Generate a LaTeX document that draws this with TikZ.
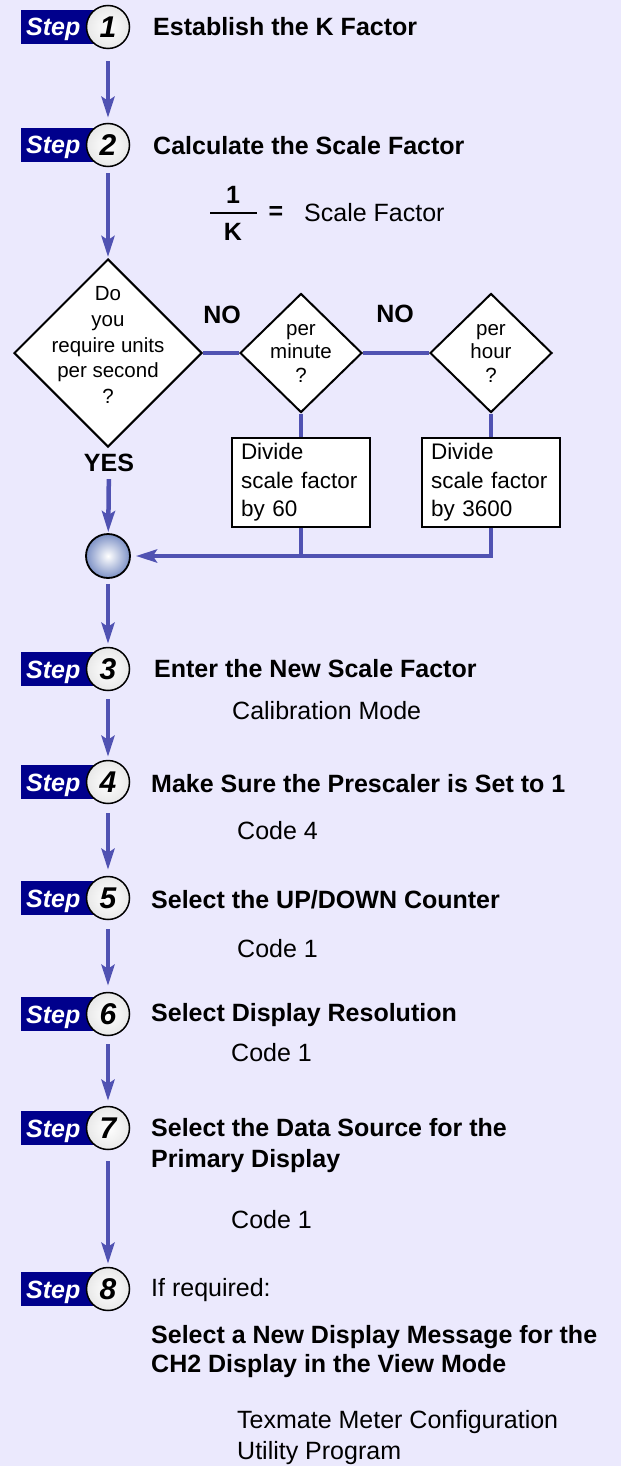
\documentclass[tikz,border=0pt]{standalone}
\usepackage{fontspec}
\setmainfont{Liberation Sans}
\usetikzlibrary{shapes.geometric,arrows.meta}
\definecolor{bgc}{RGB}{235,233,253}
\definecolor{flow}{RGB}{80,82,178}
\definecolor{navyc}{RGB}{0,0,140}
\definecolor{ballc}{RGB}{125,145,198}
\newcommand\tbold{\fontsize{25}{30}\selectfont\bfseries}
\newcommand\treg{\fontsize{25}{30}\selectfont}
\newcommand\stepbadge[3]{%
  \node[stepbox] (#1b) at (21,#2) {Step};
  \node[stepcirc] (#1) at (108,#2) {#3};
}
\begin{document}
\begin{tikzpicture}[x=1pt,y=-1pt,
  flowline/.style={draw=flow,line width=4.5pt},
  flowarrow/.style={flowline,-{Stealth[length=21pt,width=13pt,inset=4pt]}},
  stepbox/.style={anchor=west,fill=navyc,minimum width=79pt,minimum height=34pt,
    inner xsep=5pt,inner ysep=0pt,text width=69pt,text height=18pt,text depth=0pt,
    align=left,text=white,
    font=\fontsize{25}{28}\selectfont\bfseries\itshape},
  stepcirc/.style={circle,draw=black,line width=1.5pt,minimum size=43pt,inner sep=0pt,
    inner color=white,outer color=gray!18,
    font=\fontsize{30}{32}\selectfont\bfseries\itshape},
  steptext/.style={anchor=base west,inner sep=0pt,font=\tbold},
  subtext/.style={anchor=base west,inner sep=0pt,font=\treg},
  dia/.style={diamond,draw=black,fill=white,line width=2pt,inner sep=0pt},
  diatext/.style={align=center,inner sep=0pt},
  procbox/.style={draw=black,fill=white,line width=1.8pt,minimum width=138pt,
    minimum height=89pt,inner xsep=9pt,inner ysep=0pt,text width=120pt,align=left,
    font=\fontsize{22.5}{28.5}\selectfont},
  lab/.style={inner sep=0pt,font=\tbold}
]
\fill[bgc] (0,0) rectangle (621,1466);
\useasboundingbox (0,0) rectangle (621,1466);

% step badges
\stepbadge{s1}{27}{1}
\stepbadge{s2}{145}{2}
\stepbadge{s3}{669}{3}
\stepbadge{s4}{782}{4}
\stepbadge{s5}{898}{5}
\stepbadge{s6}{1014}{6}
\stepbadge{s7}{1128}{7}
\stepbadge{s8}{1289}{8}

% step texts
\node[steptext] (t1) at (153,36) {Establish the K Factor};
\node[steptext] (t2) at (153,155) {Calculate the Scale Factor};
\node[steptext] (t3) at (154,677) {Enter the New Scale Factor};
\node[subtext] (u3) at (232,719) {Calibration Mode};
\node[steptext] (t4) at (151,792) {Make Sure the Prescaler is Set to 1};
\node[subtext] (u4) at (237,839) {Code 4};
\node[steptext] (t5) at (151,908) {Select the UP/DOWN Counter};
\node[subtext] (u5) at (237,957) {Code 1};
\node[steptext] (t6) at (151,1021) {Select Display Resolution};
\node[subtext] (u6) at (231,1061) {Code 1};
\node[steptext] (t7a) at (151,1136) {Select the Data Source for the};
\node[steptext] (t7b) at (151,1167) {Primary Display};
\node[subtext] (u7) at (231,1228) {Code 1};
\node[subtext] (t8) at (151,1296) {If required:};
\node[steptext] (t8a) at (151,1343) {Select a New Display Message for the};
\node[steptext] (t8b) at (151,1372) {CH2 Display in the View Mode};
\node[subtext] (u8a) at (237,1428) {Texmate Meter Configuration};
\node[subtext] (u8b) at (237,1459) {Utility Program};

% fraction
\node[lab] (f1) at (233,195) {1};
\node[fill=black,minimum width=47pt,minimum height=2.5pt,inner sep=0pt] (fbar) at (233.5,213) {};
\node[lab] (fk) at (233,232) {K};
\node[lab] (feq) at (276,213) {=};
\node[subtext] (fsf) at (304,222) {Scale Factor};

% decisions
\node[dia,minimum width=188pt,minimum height=188pt] (d1) at (108,353) {};
\node[diatext,font=\fontsize{20.5}{25.8}\selectfont] (d1t) at (108,345) {Do\\you\\require units\\per second\\?};
\node[dia,minimum width=122pt,minimum height=119pt] (d2) at (301,353) {};
\node[diatext,font=\fontsize{20.5}{23.5}\selectfont] (d2t) at (301,353) {per\\minute\\?};
\node[dia,minimum width=122pt,minimum height=119pt] (d3) at (491,353) {};
\node[diatext,font=\fontsize{20.5}{23.5}\selectfont] (d3t) at (491,353) {per\\hour\\?};

\node[lab] (no1) at (222,315) {NO};
\node[lab] (no2) at (395,314) {NO};
\node[lab] (yes) at (109,463) {YES};

% process boxes
\node[procbox] (b1) at (301,482.5) {Divide\\scale factor\\by 60};
\node[procbox] (b2) at (491,482.5) {Divide\\scale factor\\by 3600};

% junction ball
\node[circle,draw=black,line width=1.8pt,minimum size=44pt,inner sep=0pt,
  inner color=white,outer color=ballc] (j) at (108,556) {};
\coordinate (m1) at (b1.south |- j);
\coordinate (m2) at (b2.south |- j);

% connectors
\draw[flowline] (d1.east) -- (d2.west);
\draw[flowline] (d2.east) -- (d3.west);
\draw[flowline] (d2.south) -- (b1.north);
\draw[flowline] (d3.south) -- (b2.north);
\draw[flowline] (b1.south) -- (m1);
\draw[flowarrow,shorten >=5pt] (b2.south) -- (m2) -- (j);

\draw[flowarrow,shorten <=12pt,shorten >=5pt] (s1) -- (s2);
\draw[flowarrow,shorten <=6pt,shorten >=1pt] (s2) -- (d1);
\draw[flowarrow,shorten <=7pt,shorten >=1pt] (yes) -- (j);
\draw[flowarrow,shorten <=5pt,shorten >=3pt] (j) -- (s3);
\draw[flowarrow,shorten <=8pt,shorten >=3pt] (s3) -- (s4);
\draw[flowarrow,shorten <=9pt,shorten >=6pt] (s4) -- (s5);
\draw[flowarrow,shorten <=9pt,shorten >=6pt] (s5) -- (s6);
\draw[flowarrow,shorten <=8pt,shorten >=5pt] (s6) -- (s7);
\draw[flowarrow,shorten <=11pt,shorten >=3pt] (s7) -- (s8);
\end{tikzpicture}
\end{document}
